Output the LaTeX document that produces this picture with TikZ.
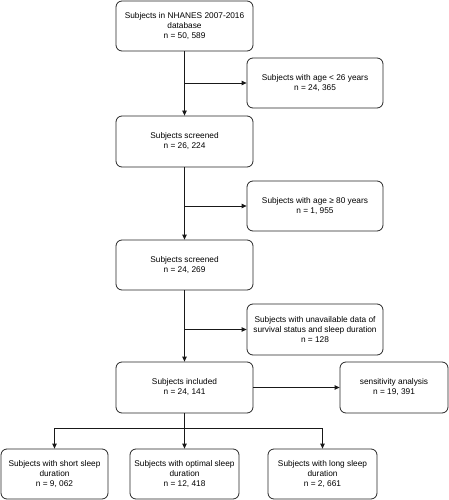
\documentclass[tikz,border=0pt]{standalone}
\usepackage{fontspec}
\setmainfont{Liberation Sans}
\usetikzlibrary{arrows.meta}
\begin{document}
\begin{tikzpicture}[x=1pt,y=-1pt,
  box/.style={draw=black!85,line width=0.8pt,rounded corners=6pt,align=center,
    font=\fontsize{8.3}{10}\selectfont,inner sep=0pt},
  main/.style={box,minimum width=137pt,minimum height=50pt},
  excl/.style={box,minimum width=136pt,minimum height=50pt},
  leaf/.style={box,minimum width=108pt,minimum height=50pt},
  conn/.style={line width=0.8pt,draw=black!90},
  arr/.style={conn,-{Triangle[length=5pt,width=4.5pt]}}]
\useasboundingbox (0,0) rectangle (449,500);
\node[main] (b1) at (184.5,26) {Subjects in NHANES 2007-2016\\database\\n = 50, 589};
\node[main,minimum height=51pt] (b2) at (184.5,141.5) {Subjects screened\\n = 26, 224};
\node[main] (b3) at (184.5,265) {Subjects screened\\n = 24, 269};
\node[main,minimum height=51pt] (b4) at (184.5,387.5) {Subjects included\\n = 24, 141};
\node[excl] (e1) at (315,83) {Subjects with age < 26 years\\n = 24, 365};
\node[excl] (e2) at (315,206) {Subjects with age ≥ 80 years\\n = 1, 955};
\node[excl,minimum height=51pt] (e3) at (315,329.5) {Subjects with unavailable data of\\survival status and sleep duration\\n = 128};
\node[leaf,minimum height=51pt] (s) at (394,387.5) {sensitivity analysis\\n = 19, 391};
\node[leaf,minimum width=107pt] (la) at (54.5,474) {Subjects with short sleep\\duration\\n = 9, 062};
\node[leaf,minimum width=109pt] (lb) at (184.5,474) {Subjects with optimal sleep\\duration\\n = 12, 418};
\node[leaf,minimum width=109pt] (lc) at (322.5,474) {Subjects with long sleep\\duration\\n = 2, 661};
\coordinate (j1) at (184.5,83);
\coordinate (j2) at (184.5,206);
\coordinate (j3) at (184.5,329.5);
\coordinate (j4) at (184.5,428);
\draw[arr] (b1) -- (b2);
\draw[arr] (j1) -- (e1);
\draw[arr] (b2) -- (b3);
\draw[arr] (j2) -- (e2);
\draw[arr] (b3) -- (b4);
\draw[arr] (j3) -- (e3);
\draw[arr] (b4) -- (s);
\draw[conn] (b4) -- (j4);
\draw[arr] (j4) -| (la);
\draw[arr] (j4) -- (lb);
\draw[arr] (j4) -| (lc);
\end{tikzpicture}
\end{document}
